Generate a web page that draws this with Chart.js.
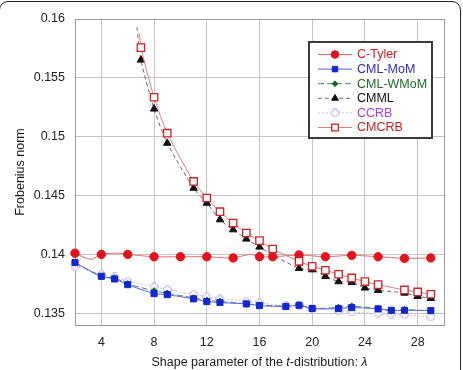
<!DOCTYPE html>
<html>
<head>
<meta charset="utf-8">
<script src="https://cdn.jsdelivr.net/npm/chart.js@4.4.1/dist/chart.umd.min.js"></script>
<style>
  html, body { margin: 0; padding: 0; background: #fff; }
  #wrap { position: relative; width: 463px; height: 370px; overflow: hidden; }
  #frame { position: absolute; left: -1px; top: 1px; width: 462px; height: 420px;
           border: 1.5px solid #222; border-radius: 9px; box-sizing: border-box; }
  canvas { position: absolute; left: 0; top: 0; }
</style>
</head>
<body>
<div id="wrap">
  <div id="frame"></div>
  <canvas id="grafico" width="463" height="370"></canvas>
</div>
<script>
// dados (pontos com x não inteiro = só a linha, sem marcador)
const xTicks = [4, 8, 12, 16, 20, 24, 28];
const yTicks = [0.135, 0.14, 0.145, 0.15, 0.155, 0.16];

const tylerX = [2, 3.2, 4, 5.2, 6, 8, 10, 12, 14, 15.3, 16, 17, 19, 21, 23, 25, 27, 29];
const tylerY = [0.1401, 0.13957, 0.1400, 0.1401, 0.1400, 0.1398, 0.1398, 0.1398, 0.1397, 0.1400, 0.1398, 0.1398, 0.13995, 0.1398, 0.13992, 0.1398, 0.13966, 0.1397];

const momX = [2, 4, 5, 6, 8, 9, 11, 12, 13, 15, 16, 18, 19, 20, 22, 23, 25, 26, 27, 29];
const momY = [0.1393, 0.13814, 0.13791, 0.13743, 0.13667, 0.13658, 0.13622, 0.13599, 0.13591, 0.13579, 0.13565, 0.13557, 0.13568, 0.1354, 0.1354, 0.13548, 0.13537, 0.13525, 0.13525, 0.13523];

const wmomX = [2, 4, 5, 6, 8, 9, 11, 12, 13, 15, 16, 18, 19, 20, 22, 23, 25, 26, 27, 29];
const wmomY = [0.1393, 0.1381, 0.138, 0.1375, 0.1369, 0.1367, 0.1363, 0.1361, 0.136, 0.1358, 0.1357, 0.1356, 0.1357, 0.1354, 0.1355, 0.1356, 0.1354, 0.1352, 0.1353, 0.1352];

const cmmlX = [6.7, 7, 8, 9, 11, 12, 13, 14, 15, 16, 17, 19, 20, 21, 22, 23, 24, 25, 27, 28, 29];
const cmmlY = [0.1593, 0.15652, 0.15236, 0.14945, 0.14563, 0.14436, 0.14295, 0.1421, 0.14131, 0.14063, 0.13995, 0.13882, 0.1387, 0.13814, 0.13769, 0.13763, 0.13715, 0.13695, 0.13672, 0.13644, 0.13627];

const ccrbX = [2, 4, 5, 6, 8, 9, 11, 12, 13, 15, 16, 18, 19, 20, 22, 23, 25, 26, 27, 29];
const ccrbY = [0.13899, 0.13831, 0.13808, 0.13772, 0.13724, 0.13702, 0.13661, 0.13639, 0.13622, 0.13602, 0.13588, 0.13562, 0.13565, 0.1354, 0.13523, 0.13511, 0.13497, 0.13492, 0.13486, 0.13469];

const cmcrbX = [6.9, 7, 8, 9, 11, 12, 13, 14, 15, 16, 17, 19, 20, 21, 22, 23, 24, 25, 27, 28, 29];
const cmcrbY = [0.1588, 0.15757, 0.15335, 0.1503, 0.1462, 0.14479, 0.14363, 0.14266, 0.14182, 0.14117, 0.14046, 0.13941, 0.13899, 0.13865, 0.13831, 0.138, 0.13769, 0.13743, 0.13698, 0.13681, 0.13661];

const fonte = '"Liberation Sans", Arial, sans-serif';

// marcador do CCRB: cruz vazada
function marcadorCruz() {
  const c = document.createElement("canvas");
  c.width = 9; c.height = 9;
  const g = c.getContext("2d");
  g.beginPath();
  const a = 1.7, b = 3.8, m = 4.5;
  g.moveTo(m - a, m - b); g.lineTo(m + a, m - b); g.lineTo(m + a, m - a);
  g.lineTo(m + b, m - a); g.lineTo(m + b, m + a); g.lineTo(m + a, m + a);
  g.lineTo(m + a, m + b); g.lineTo(m - a, m + b); g.lineTo(m - a, m + a);
  g.lineTo(m - b, m + a); g.lineTo(m - b, m - a); g.lineTo(m - a, m - a);
  g.closePath();
  g.fillStyle = "#fff"; g.fill();
  g.strokeStyle = "#c2b4ea"; g.lineWidth = 1; g.stroke();
  return c;
}

const series = [
  { nome: "C-Tyler", xs: tylerX, ys: tylerY, linha: "#e46a6a", dash: [], estilo: "circle", raio: 4.2, fundo: "#e3121b", borda: "#e3121b", texto: "#e01c22" },
  { nome: "CML-MoM", xs: momX, ys: momY, linha: "#5566dd", dash: [], estilo: "rect", raio: 4.3, fundo: "#1226d0", borda: "#1226d0", texto: "#2a2ad6" },
  { nome: "CML-WMoM", xs: wmomX, ys: wmomY, linha: "#4d8a5c", dash: [6, 3], estilo: "rectRot", raio: 3.2, fundo: "#0e6a22", borda: "#0e6a22", texto: "#1d6e20" },
  { nome: "CMML", xs: cmmlX, ys: cmmlY, linha: "#6b6b6b", dash: [4, 3], estilo: "triangle", raio: 4.3, fundo: "#111", borda: "#111", texto: "#111" },
  { nome: "CCRB", xs: ccrbX, ys: ccrbY, linha: "#c8c2da", dash: [2, 2], estilo: marcadorCruz(), raio: 4.5, fundo: "#fff", borda: "#c2b4ea", texto: "#a33fe6" },
  { nome: "CMCRB", xs: cmcrbX, ys: cmcrbY, linha: "#e27a7a", dash: [], estilo: "rect", raio: 5.2, fundo: "#fff", borda: "#d42020", texto: "#cc2222" }
];

// ordem de desenho: os quadrados do CMCRB e do MoM ficam por cima
const ordem = { "C-Tyler": 3, "CML-MoM": 1, "CML-WMoM": 2, "CMML": 4, "CCRB": 5, "CMCRB": 0 };

const datasets = series.map(s => ({
  label: s.nome,
  data: s.xs.map((x, i) => ({ x: x, y: s.ys[i] })),
  order: ordem[s.nome],
  clip: false,
  borderColor: s.linha,
  borderWidth: 1,
  borderDash: s.dash,
  pointStyle: s.estilo,
  pointRadius: ctx => Number.isInteger(ctx.raw && ctx.raw.x) ? s.raio : 0,
  pointBackgroundColor: s.fundo,
  pointBorderColor: s.borda,
  pointBorderWidth: s.nome === "CMCRB" ? 1.3 : 1,
  tension: 0.25,
  fill: false
}));

// moldura completa da área do gráfico
const molduraPlugin = {
  id: "moldura",
  beforeDatasetsDraw(chart) {
    const { ctx, chartArea: a } = chart;
    ctx.save();
    ctx.strokeStyle = "#9a9a9a";
    ctx.lineWidth = 1;
    ctx.strokeRect(Math.round(a.left) + 0.5, Math.round(a.top) + 0.5, Math.round(a.right - a.left), Math.round(a.bottom - a.top));
    ctx.restore();
  }
};

// legenda dentro do gráfico
const legendaPlugin = {
  id: "legendaCaixa",
  afterDraw(chart) {
    const ctx = chart.ctx;
    const bx = 309, by = 42, bw = 123, bh = 96;
    ctx.save();
    ctx.fillStyle = "#fff";
    ctx.fillRect(bx, by, bw, bh);
    ctx.strokeStyle = "#3a3a3a";
    ctx.lineWidth = 2;
    ctx.strokeRect(bx, by, bw, bh);
    series.forEach((s, i) => {
      const y = 54.5 + i * 14.6;
      ctx.strokeStyle = s.linha;
      ctx.lineWidth = 1;
      ctx.setLineDash(s.dash);
      ctx.beginPath();
      ctx.moveTo(318, y); ctx.lineTo(352, y);
      ctx.stroke();
      ctx.setLineDash([]);
      ctx.fillStyle = s.fundo;
      ctx.strokeStyle = s.borda;
      ctx.lineWidth = s.nome === "CMCRB" ? 1.3 : 1;
      Chart.helpers.drawPoint(ctx, { pointStyle: s.estilo, radius: s.raio * 0.9, borderWidth: 1, rotation: 0 }, 335, y);
      ctx.fillStyle = s.texto;
      ctx.font = "12.5px " + fonte;
      ctx.textBaseline = "middle";
      ctx.textAlign = "left";
      ctx.fillText(s.nome, 357, y + 0.5);
    });
    ctx.restore();
  }
};

// título do eixo x com partes em itálico
const tituloXPlugin = {
  id: "tituloX",
  afterDraw(chart) {
    const ctx = chart.ctx;
    const partes = [["Shape parameter of the ", ""], ["t", "italic "], ["-distribution: ", ""], ["λ", "italic "]];
    ctx.save();
    ctx.fillStyle = "#1a1a1a";
    ctx.textBaseline = "middle";
    ctx.textAlign = "left";
    let total = 0;
    partes.forEach(p => { ctx.font = p[1] + "12.5px " + fonte; total += ctx.measureText(p[0]).width; });
    let x = 259.5 - total / 2;
    partes.forEach(p => {
      ctx.font = p[1] + "12.5px " + fonte;
      ctx.fillText(p[0], x, 363);
      x += ctx.measureText(p[0]).width;
    });
    ctx.restore();
  }
};

new Chart(document.getElementById("grafico").getContext("2d"), {
  type: "line",
  data: { datasets: datasets },
  options: {
    responsive: false,
    animation: false,
    layout: { padding: { top: 19, right: 19, left: 0, bottom: 0 } },
    plugins: { legend: { display: false }, tooltip: { enabled: false } },
    scales: {
      x: {
        type: "linear",
        min: 2,
        max: 30,
        afterFit: s => { s.height = 45; },
        afterBuildTicks: s => { s.ticks = xTicks.map(v => ({ value: v })); },
        grid: { color: "#c4c4c4", borderDash: [1, 2], drawTicks: false },
        border: { display: true, color: "#9a9a9a" },
        ticks: { color: "#222", padding: 10, maxRotation: 0, font: { family: fonte, size: 12.5 } }
      },
      y: {
        min: 0.134,
        max: 0.16,
        afterFit: s => { s.width = 75; },
        afterBuildTicks: s => { s.ticks = yTicks.map(v => ({ value: v })); },
        grid: { color: "#c4c4c4", borderDash: [1, 2], drawTicks: false },
        border: { display: true, color: "#9a9a9a" },
        ticks: { color: "#222", padding: 10, font: { family: fonte, size: 12.5 }, callback: v => String(v) },
        title: { display: true, text: "Frobenius norm", color: "#1a1a1a", padding: { top: 13.5, bottom: 0 }, font: { family: fonte, size: 12.5 } }
      }
    }
  },
  plugins: [molduraPlugin, legendaPlugin, tituloXPlugin]
});
</script>
</body>
</html>
